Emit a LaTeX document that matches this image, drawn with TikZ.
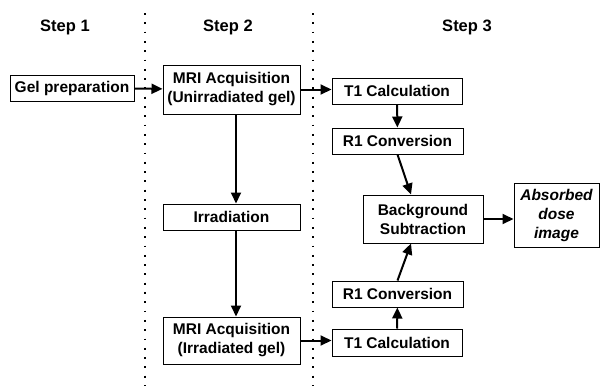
\documentclass[tikz,border=0pt]{standalone}
\usepackage{fontspec}
\setmainfont{Liberation Sans}
\usetikzlibrary{arrows.meta}

\begin{document}
\begin{tikzpicture}[x=1pt,y=-1pt,
		box/.style={draw,line width=1pt,inner sep=0pt,align=center,
			font=\fontsize{15.5}{19}\selectfont\bfseries},
		steplbl/.style={font=\fontsize{16.5}{19}\selectfont\bfseries},
		flow/.style={line width=2pt,-{Triangle[length=11pt,width=10pt]}},
		sep/.style={line width=1.8pt,dash pattern=on 1.8pt off 7.5pt}]
			\useasboundingbox (0,0) rectangle (600,386);
			
			\draw[sep] (145,13) -- (145,386);
			\draw[sep] (313,13) -- (313,386);
			
			\node[steplbl] (step1) at (65,27) {Step 1};
			\node[steplbl] (step2) at (228,27) {Step 2};
			\node[steplbl] (step3) at (467,27) {Step 3};
			
			\node[box,minimum width=124,minimum height=26] (gel) at (72,88) {Gel preparation};
			\node[box,minimum width=137,minimum height=49] (mri1) at (231.5,89.5) {MRI Acquisition\\(Unirradiated gel)};
			\node[box,minimum width=137,minimum height=26] (irr) at (231.5,217) {Irradiation};
			\node[box,minimum width=137,minimum height=47] (mri2) at (231.5,340.5) {MRI Acquisition\\(Irradiated gel)};
			
			\node[box,minimum width=130,minimum height=26] (t1a) at (397,91) {T1 Calculation};
			\node[box,minimum width=131,minimum height=26] (r1a) at (397.5,141) {R1 Conversion};
			\node[box,minimum width=120,minimum height=48] (bg) at (423,219) {Background\\Subtraction};
			\node[box,minimum width=85,minimum height=64,font=\fontsize{15.5}{19}\selectfont\bfseries\itshape] (dose) at (556.5,215) {Absorbed\\dose\\image};
			\node[box,minimum width=131,minimum height=26] (r1b) at (397.5,294) {R1 Conversion};
			\node[box,minimum width=130,minimum height=27] (t1b) at (397,342.5) {T1 Calculation};
			
			\draw[flow] (gel) -- (mri1);
			\draw[flow] (mri1.south) ++(4.5,0) coordinate (m1s) -- (m1s |- irr.north);
			\draw[flow] (irr.south) ++(4.5,0) coordinate (irs) -- (irs |- mri2.north);
			\draw[flow] (mri1.east) -- (t1a.west |- mri1.east);
			\draw[flow] (mri2.east) -- (t1b.west |- mri2.east);
			\draw[flow] (t1a) -- (r1a);
			\draw[flow] (r1a.south) -- ([xshift=-12pt]bg.north);
			\draw[flow] (t1b) -- (r1b);
			\draw[flow] (r1b.north) -- ([xshift=-12pt]bg.south);
			\draw[flow] (bg.east) -- (dose.west |- bg.east);
\end{tikzpicture}
\end{document}
